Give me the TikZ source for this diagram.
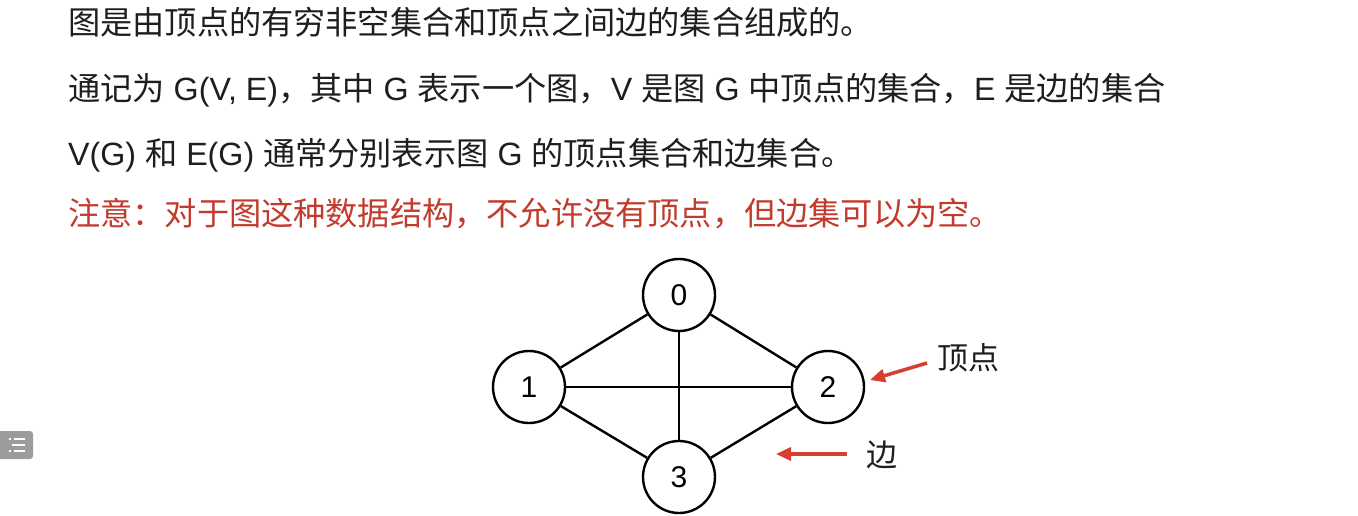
\documentclass[tikz,border=0pt]{standalone}
\usepackage{fontspec}
\setmainfont{Liberation Sans}
\newfontfamily\cjk{Noto Sans CJK SC}
\usetikzlibrary{arrows.meta}
\definecolor{txt}{HTML}{1E1E1E}
\definecolor{warn}{HTML}{C23B2C}
\definecolor{arr}{HTML}{D43F2F}
\definecolor{icon}{HTML}{9C9C9C}
\begin{document}
\begin{tikzpicture}[x=1pt,y=-1pt,
  line/.style={anchor=base west,inner sep=0pt,text=txt,font=\fontsize{32.2}{38}\selectfont},
  vertex/.style={circle,draw=black,line width=2.4pt,minimum size=72pt,inner sep=0pt,font=\fontsize{30}{36}\selectfont,fill=white},
  edge/.style={draw=black,line width=2.4pt},
  pointer/.style={draw=arr,line width=3.5pt,-{Triangle[length=15pt,width=13pt]}},
  lab/.style={inner sep=0pt,text=txt,font=\cjk\fontsize{31}{36}\selectfont}]
\useasboundingbox[fill=white] (0,0) rectangle (1358,516);
% text lines
\node[line] (l1) at (68,35) {\cjk 图是由顶点的有穷非空集合和顶点之间边的集合组成的。};
\node[line] (l2) at (68,101) {{\cjk 通记为} G(V, E){\cjk ，其中} G {\cjk 表示一个图，}V {\cjk 是图} G {\cjk 中顶点的集合，}E {\cjk 是边的集合}};
\node[line] (l3) at (68,166) {V(G) {\cjk 和} E(G) {\cjk 通常分别表示图} G {\cjk 的顶点集合和边集合。}};
\node[line,text=warn] (l4) at (68,225) {\cjk 注意：对于图这种数据结构，不允许没有顶点，但边集可以为空。};
% graph
\node[vertex] (v0) at (679,295) {0};
\node[vertex] (v1) at (529,387) {1};
\node[vertex] (v2) at (828,387) {2};
\node[vertex] (v3) at (679,477) {3};
\draw[edge] (v0) -- (v1);
\draw[edge] (v0) -- (v2);
\draw[edge] (v0) -- (v3);
\draw[edge] (v1) -- (v2);
\draw[edge] (v1) -- (v3);
\draw[edge] (v2) -- (v3);
% labels and pointers
\node[lab,anchor=west] (tv) at (937,358) {顶点};
\node[lab,anchor=west] (te) at (866,455) {边};
\coordinate (ta) at (927,363);
\coordinate (ha) at (870,380);
\coordinate (tb) at (847,454);
\coordinate (hb) at (776,454);
\draw[pointer] (ta) -- (ha);
\draw[pointer] (tb) -- (hb);
% side icon
\node[fill=icon,rounded corners=3pt,minimum width=40pt,minimum height=28pt,inner sep=0pt] (ic) at (13,445) {};
\foreach \yy/\xx in {439/9,445/12,451/9}{
  \fill[white] (\xx,\yy-1) rectangle (\xx+2,\yy+1);
  \fill[white] (14,\yy-1) rectangle (25,\yy+1);
}
\end{tikzpicture}
\end{document}
